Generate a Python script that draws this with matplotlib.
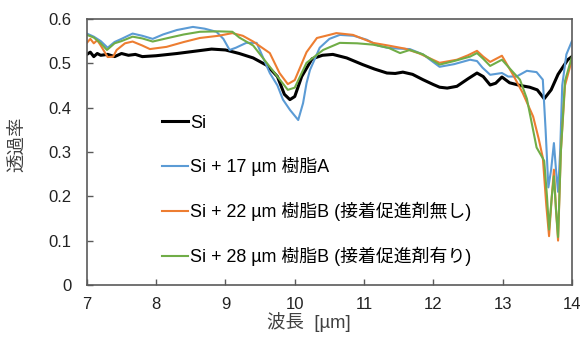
import matplotlib
matplotlib.use("agg")
from matplotlib import pyplot as plt
from matplotlib.ticker import FuncFormatter

plt.rcParams["font.family"] = ["Liberation Sans", "Noto Sans CJK JP", "DejaVu Sans"]

# Si (bare wafer)
si_x = [7.0, 7.05, 7.1, 7.15, 7.2, 7.3, 7.4, 7.5, 7.6, 7.7, 7.8, 8.0, 8.3, 8.6, 8.8, 9.0,
        9.2, 9.4, 9.6, 9.75, 9.85, 9.93, 10.0, 10.1, 10.25, 10.4, 10.55, 10.75, 10.98,
        11.15, 11.33, 11.45, 11.56, 11.7, 11.85, 12.0, 12.09, 12.2, 12.34, 12.5, 12.63,
        12.72, 12.82, 12.9, 12.99, 13.1, 13.25, 13.39, 13.5, 13.6, 13.7, 13.8, 13.94, 14.0]
si_y = [0.52, 0.525, 0.515, 0.522, 0.518, 0.52, 0.515, 0.522, 0.518, 0.52, 0.515, 0.517,
        0.522, 0.528, 0.532, 0.53, 0.522, 0.512, 0.495, 0.47, 0.43, 0.418, 0.425, 0.47,
        0.51, 0.518, 0.52, 0.512, 0.497, 0.487, 0.478, 0.477, 0.48, 0.475, 0.463, 0.452,
        0.446, 0.444, 0.448, 0.465, 0.478, 0.47, 0.451, 0.455, 0.469, 0.456, 0.45, 0.446,
        0.44, 0.42, 0.44, 0.475, 0.508, 0.515]

# Si + 17 um resin A
a_x = [7.0, 7.1, 7.2, 7.3, 7.4, 7.5, 7.66, 7.8, 7.95, 8.1, 8.3, 8.53, 8.7, 8.87, 8.97,
       9.06, 9.15, 9.3, 9.45, 9.64, 9.75, 9.83, 9.93, 10.05, 10.12, 10.17, 10.22, 10.36,
       10.5, 10.65, 10.85, 11.04, 11.2, 11.33, 11.5, 11.66, 11.85, 12.09, 12.3, 12.53,
       12.63, 12.71, 12.82, 12.99, 13.08, 13.2, 13.35, 13.49, 13.58, 13.62, 13.66, 13.7,
       13.74, 13.77, 13.8, 13.83, 13.86, 13.92, 14.0]
a_y = [0.567, 0.56, 0.55, 0.535, 0.548, 0.555, 0.567, 0.562, 0.555, 0.565, 0.575, 0.582,
       0.578, 0.571, 0.555, 0.53, 0.535, 0.546, 0.546, 0.478, 0.45, 0.418, 0.395, 0.372,
       0.41, 0.455, 0.485, 0.535, 0.555, 0.564, 0.562, 0.553, 0.54, 0.535, 0.533, 0.532,
       0.52, 0.492, 0.498, 0.508, 0.505, 0.49, 0.474, 0.478, 0.47, 0.47, 0.483, 0.48,
       0.463, 0.35, 0.22, 0.26, 0.32, 0.26, 0.21, 0.3, 0.45, 0.52, 0.55]

# Si + 22 um resin B (no adhesion promoter)
b1_x = [7.0, 7.05, 7.1, 7.15, 7.2, 7.3, 7.38, 7.43, 7.55, 7.66, 7.8, 7.91, 8.15, 8.4,
        8.63, 8.9, 9.1, 9.25, 9.4, 9.64, 9.78, 9.9, 10.0, 10.17, 10.32, 10.5, 10.6, 10.84,
        11.13, 11.35, 11.59, 11.8, 12.09, 12.34, 12.5, 12.63, 12.72, 12.82, 12.99, 13.15,
        13.29, 13.44, 13.52, 13.58, 13.63, 13.67, 13.71, 13.74, 13.77, 13.8, 13.84, 13.9,
        14.0]
b1_y = [0.546, 0.555, 0.545, 0.552, 0.54, 0.514, 0.515, 0.53, 0.545, 0.549, 0.54, 0.532,
        0.537, 0.548, 0.557, 0.562, 0.568, 0.562, 0.549, 0.523, 0.478, 0.453, 0.462,
        0.525, 0.557, 0.564, 0.568, 0.564, 0.546, 0.54, 0.533, 0.522, 0.501, 0.508, 0.518,
        0.528, 0.515, 0.503, 0.517, 0.474, 0.433, 0.38, 0.33, 0.287, 0.18, 0.11, 0.2,
        0.26, 0.17, 0.1, 0.3, 0.45, 0.508]

# Si + 28 um resin B (with adhesion promoter)
b2_x = [7.0, 7.1, 7.2, 7.29, 7.4, 7.5, 7.66, 7.8, 7.95, 8.2, 8.4, 8.63, 8.9, 9.1, 9.2,
        9.4, 9.64, 9.8, 9.9, 10.0, 10.17, 10.41, 10.65, 10.9, 11.13, 11.35, 11.52, 11.66,
        11.85, 12.09, 12.3, 12.53, 12.63, 12.72, 12.82, 12.99, 13.15, 13.25, 13.35, 13.49,
        13.6, 13.64, 13.67, 13.71, 13.74, 13.77, 13.8, 13.84, 13.9, 14.0]
b2_y = [0.564, 0.558, 0.545, 0.53, 0.545, 0.55, 0.56, 0.556, 0.549, 0.558, 0.565, 0.571,
        0.572, 0.571, 0.558, 0.54, 0.492, 0.46, 0.44, 0.445, 0.501, 0.53, 0.546, 0.545,
        0.542, 0.535, 0.523, 0.53, 0.52, 0.497, 0.505, 0.515, 0.523, 0.51, 0.494, 0.508,
        0.48, 0.463, 0.42, 0.31, 0.28, 0.2, 0.125, 0.2, 0.245, 0.17, 0.108, 0.3, 0.46,
        0.515]

labels = ["Si", "Si + 17 µm 樹脂A", "Si + 22 µm 樹脂B (接着促進剤無し)",
          "Si + 28 µm 樹脂B (接着促進剤有り)"]
x_ticks = [7, 8, 9, 10, 11, 12, 13, 14]
y_ticks = [0, 0.1, 0.2, 0.3, 0.4, 0.5, 0.6]

fig = plt.figure(figsize=(5.83, 3.38), dpi=100)
ax = fig.add_axes([0.149, 0.157, 0.832, 0.787])

ax.plot(si_x, si_y, color="black", lw=2.2, label=labels[0])
ax.plot(a_x, a_y, color="#5B9BD5", lw=1.5, label=labels[1])
ax.plot(b1_x, b1_y, color="#ED7D31", lw=1.5, label=labels[2])
ax.plot(b2_x, b2_y, color="#70AD47", lw=1.5, label=labels[3])

ax.set_xlim(7, 14)
ax.set_ylim(0, 0.6)
ax.set_xticks(x_ticks)
ax.set_yticks(y_ticks)
ax.yaxis.set_major_formatter(FuncFormatter(lambda v, p: "%g" % v))
ax.tick_params(direction="in", length=4, width=1, color="#5a5a5a", labelsize=12,
               labelcolor="#222222")
ax.tick_params(axis="y", pad=11)
ax.tick_params(axis="x", pad=9)
for s in ax.spines.values():
    s.set_color("#5a5a5a")
    s.set_linewidth(1.2)

ax.set_xlabel("波長  [µm]", fontsize=13.3, color="#404040")
ax.xaxis.set_label_coords(0.458, -0.10)
ax.set_ylabel("透過率", fontsize=13.3, color="#404040")
ax.yaxis.set_label_coords(-0.126, 0.53)

ax.legend(loc="upper left", bbox_to_anchor=(0.155, 0.64), frameon=False,
          fontsize=12.9, handlelength=1.45, handletextpad=0.1, labelspacing=1.43,
          borderpad=0, borderaxespad=0)

plt.savefig("out.png", dpi=100)
